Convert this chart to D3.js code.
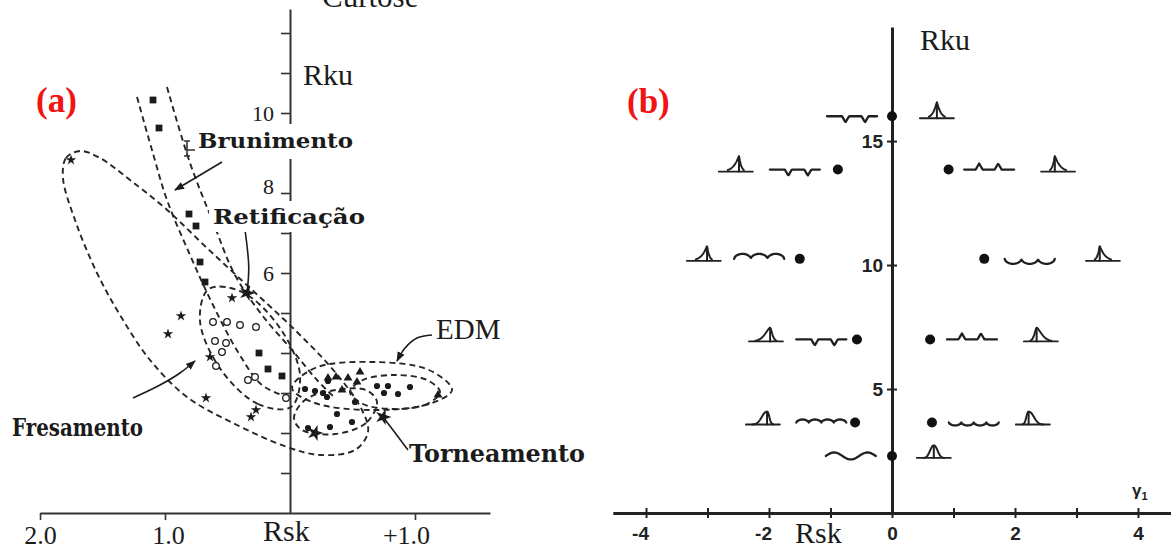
<!DOCTYPE html>
<html lang="pt">
<head>
<meta charset="utf-8">
<title>Rsk × Rku</title>
<script src="https://cdn.jsdelivr.net/npm/d3@7/dist/d3.min.js"></script>
<style>
  html, body { margin: 0; padding: 0; background: #fff; }
  svg { display: block; }
</style>
</head>
<body>
<svg id="fig" width="1171" height="550"></svg>
<script>
// ================= panel (a): Rsk × Rku by machining process =================
const aTicksY   = [1, 2, 3, 4, 5, 6, 7, 8, 9, 10, 11, 12];
const aLabelsY  = [6, 8, 10];
const aTicksX   = [-2, -1, 1];
const aTickText = ["2.0", "1.0", "+1.0"];

// Brunimento (honing) – filled squares
const brunRsk = [-1.096, -1.048, -0.808, -0.752, -0.72, -0.68, -0.248, -0.176, -0.064];
const brunRku = [10.325, 9.625, 7.475, 7.175, 6.275, 5.775, 4.0, 3.6, 3.425];
// Retificação (grinding) – open circles
const retRsk = [-0.616, -0.504, -0.4, -0.272, -0.6, -0.512, -0.544, -0.592, -0.336, -0.28, -0.032];
const retRku = [4.775, 4.775, 4.7, 4.65, 4.3, 4.25, 4.025, 3.675, 3.325, 3.4, 2.875];
// Fresamento (milling) – small stars
const fresRsk = [-1.752, -0.872, -0.976, -0.464, -0.64, -0.672, -0.272, -0.312];
const fresRku = [8.825, 4.925, 4.475, 5.375, 3.9, 2.875, 2.575, 2.4];
// Torneamento (turning) – filled dots
const tornRsk = [0.12, 0.2, 0.264, 0.304, 0.296, 0.696, 0.784, 0.96, 0.752, 0.864, 0.52, 0.376, 0.496, 0.32, 0.144];
const tornRku = [3.1, 3.05, 3.0, 3.3, 2.9, 3.175, 3.175, 3.15, 3.0, 2.975, 2.775, 2.475, 2.275, 2.15, 2.125];
// EDM – filled triangles
const edmRsk = [0.304, 0.368, 0.464, 0.56, 0.536, 0.416, 1.184];
const edmRku = [3.375, 3.4, 3.375, 3.525, 3.275, 3.075, 2.95];
// crossed markers at the tips of the pointers
const tipRsk = [-0.344, 0.2, 0.744];
const tipRku = [5.5, 2.0, 2.4];

// region outlines, [Rsk, Rku]
const fresOutline = [[-1.816, 8.375], [-1.792, 8.875], [-1.68, 9.05], [-1.52, 8.875], [-1.28, 8.325],
  [-1.0, 7.625], [-0.664, 6.625], [-0.32, 5.625], [0.04, 4.575], [0.36, 3.525], [0.576, 2.575],
  [0.624, 2.025], [0.52, 1.575], [0.24, 1.45], [-0.024, 1.65], [-0.456, 2.25], [-0.824, 2.9],
  [-1.12, 3.825], [-1.36, 4.95], [-1.544, 6.0], [-1.72, 7.325]];
const brunLeft  = [[-1.224, 10.4], [-1.104, 9.075], [-0.984, 7.825], [-0.8, 6.45], [-0.624, 5.25],
  [-0.416, 4.025], [-0.224, 3.2], [0.0, 2.875]];
const brunRight = [[-0.984, 10.65], [-0.8, 8.75], [-0.616, 7.275], [-0.44, 5.95], [-0.224, 4.95],
  [0.016, 4.075], [0.216, 3.325], [0.36, 2.875]];
const retOutline  = [[0.008, 2.65], [-0.256, 2.725], [-0.556, 3.6], [-0.72, 4.8], [-0.65, 5.6],
  [-0.386, 5.53], [-0.084, 4.64], [0.08, 3.45]];
const edmOutline  = [[1.296, 3.075], [1.112, 2.725], [0.656, 2.575], [0.2, 2.75], [0.016, 3.125],
  [0.2, 3.625], [0.656, 3.775], [1.112, 3.575]];
const edmCore     = [[1.2, 3.025], [1.096, 2.725], [0.84, 2.6], [0.584, 2.725], [0.48, 3.025],
  [0.584, 3.325], [0.84, 3.45], [1.096, 3.325]];
const tornOutline = [[0.696, 2.775], [0.608, 2.25], [0.36, 1.975], [0.096, 2.075], [0.032, 2.375],
  [0.12, 2.825], [0.368, 3.075], [0.608, 3.075]];

// pointers from the labels
const ptrBrun = [[-0.544, 8.775], [-0.92, 8.075]];
const ptrRet  = [[-0.36, 7.075], [-0.33, 6.15], [-0.344, 5.5]];
const ptrFres = [[-1.256, 2.875], [-1.04, 3.2], [-0.88, 3.5], [-0.76, 3.8]];
const ptrEdm  = [[1.136, 4.45], [1.016, 4.375], [0.92, 4.125], [0.856, 3.8]];
const ptrTorn = [[0.944, 1.575], [0.824, 2.075], [0.744, 2.4]];

// ================= panel (b): typical profiles =================
const bTicksX   = [-4, -3, -2, -1, 0, 1, 2, 3, 4];
const bLabelsX  = [-4, -2, 0, 2, 4];
const bTicksY   = [5, 10, 15];
const bRsk      = [0, -0.88, 0.92, -1.5, 1.5, -0.57, 0.62, -0.6, 0.65, 0];
const bRku      = [16, 13.85, 13.85, 10.25, 10.25, 7.0, 7.0, 3.65, 3.65, 2.3];
const profRsk   = [-0.65, -1.58, 1.58, -2.16, 2.24, -1.15, 1.3, -1.15, 1.33, -0.67];
const profKind  = ["dips", "dips", "spikes", "arches", "cups", "dips", "spikes", "ripple", "trough", "sine"];
const distRsk   = [0.73, -2.54, 2.7, -3.06, 3.43, -2.05, 2.42, -2.1, 2.29, 0.68];

// ---------------------------------------------------------------------------
const svg = d3.select("#fig");
const ink = "#1b1b1b";
const serif = "'Liberation Serif','Times New Roman',serif";
const boldSerif = "'DejaVu Serif',serif";
const sans = "'Liberation Sans',Arial,sans-serif";
const red = "#f01414";

svg.append("rect").attr("width", 1171).attr("height", 550).attr("fill", "#fff");

const defs = svg.append("defs");
defs.append("marker").attr("id", "head")
  .attr("viewBox", "0 0 10 10").attr("refX", 9).attr("refY", 5)
  .attr("markerWidth", 10).attr("markerHeight", 10)
  .attr("markerUnits", "userSpaceOnUse").attr("orient", "auto")
  .append("path").attr("d", "M0,1.2L10,5L0,8.8Z").attr("fill", ink);

// ----------------------------- panel (a) -----------------------------------
const xa = d3.scaleLinear().domain([-2, 1.6]).range([40, 490]);
const ya = d3.scaleLinear().domain([0, 12.6]).range([513, 9]);
const ga = svg.append("g");

const axAy = ga.append("g").attr("transform", `translate(${xa(0)},0)`)
  .call(d3.axisLeft(ya).tickValues(aTicksY).tickSize(9).tickSizeOuter(0).tickPadding(7)
    .tickFormat(d => aLabelsY.includes(d) ? String(d) : ""));
const axAx = ga.append("g").attr("transform", `translate(0,${ya(0)})`)
  .call(d3.axisBottom(xa).tickValues(aTicksX).tickSize(7).tickSizeOuter(0)
    .tickFormat((d, i) => aTickText[i]));
[axAy, axAx].forEach(g => {
  g.select(".domain").attr("stroke", "#333").attr("stroke-width", 2);
  g.selectAll(".tick line").attr("stroke", "#333").attr("stroke-width", 1.6);
  g.selectAll("text").attr("fill", ink).attr("font-family", serif);
});
axAy.selectAll("text").attr("font-size", 22).attr("dy", d => d === 8 ? "0" : "0.32em");
axAx.selectAll("text").attr("font-size", 26).attr("y", 31).attr("dy", 0)
  .attr("dx", (d, i) => [0, 3, -9][i]);

const openA = d3.line().x(d => xa(d[0])).y(d => ya(d[1])).curve(d3.curveCatmullRom.alpha(0.5));
const closedA = d3.line().x(d => xa(d[0])).y(d => ya(d[1])).curve(d3.curveCatmullRomClosed.alpha(0.5));

const regions = ga.append("g").attr("fill", "none").attr("stroke", "#262626")
  .attr("stroke-width", 1.9).attr("stroke-dasharray", "6 4");
[fresOutline, retOutline, edmOutline, edmCore, tornOutline].forEach(o =>
  regions.append("path").attr("d", closedA(o)));
[brunLeft, brunRight].forEach(o => regions.append("path").attr("d", openA(o)));

// pointers
const ptrs = ga.append("g").attr("fill", "none").attr("stroke", ink).attr("stroke-width", 1.6);
[ptrBrun, ptrFres, ptrEdm].forEach(p =>
  ptrs.append("path").attr("d", openA(p)).attr("marker-end", "url(#head)"));
[ptrRet, ptrTorn].forEach(p => ptrs.append("path").attr("d", openA(p)));

// markers
const marks = ga.append("g");
const sq = d3.symbol().type(d3.symbolSquare).size(46);
const tri = d3.symbol().type(d3.symbolTriangle).size(34);
const star = d3.symbol().type(d3.symbolStar).size(34);
const bigStar = d3.symbol().type(d3.symbolStar).size(80);

marks.selectAll(".sq").data(d3.zip(brunRsk, brunRku)).join("path")
  .attr("d", sq).attr("fill", ink)
  .attr("transform", d => `translate(${xa(d[0])},${ya(d[1])})`);
marks.selectAll(".oc").data(d3.zip(retRsk, retRku)).join("circle")
  .attr("cx", d => xa(d[0])).attr("cy", d => ya(d[1])).attr("r", 3.3)
  .attr("fill", "#fff").attr("stroke", ink).attr("stroke-width", 1.3);
marks.selectAll(".st").data(d3.zip(fresRsk, fresRku)).join("path")
  .attr("d", star).attr("fill", ink)
  .attr("transform", d => `translate(${xa(d[0])},${ya(d[1])})`);
marks.selectAll(".dt").data(d3.zip(tornRsk, tornRku)).join("circle")
  .attr("cx", d => xa(d[0])).attr("cy", d => ya(d[1])).attr("r", 3.1).attr("fill", ink);
marks.selectAll(".tr").data(d3.zip(edmRsk, edmRku)).join("path")
  .attr("d", tri).attr("fill", ink)
  .attr("transform", d => `translate(${xa(d[0])},${ya(d[1])})`);
marks.selectAll(".tp").data(d3.zip(tipRsk, tipRku)).join("path")
  .attr("d", bigStar).attr("fill", ink)
  .attr("transform", d => `translate(${xa(d[0])},${ya(d[1])}) rotate(18)`);

// small bracket mark next to the honing label
ga.append("path")
  .attr("d", "M184,141H190M187,141V156M184,156H190M187,150H195")
  .attr("fill", "none").attr("stroke", "#333").attr("stroke-width", 1.6);

// labels on white plates
function plateLabel(g, txt, x, y, size, len, box) {
  if (box) g.append("rect").attr("x", box[0]).attr("y", box[1]).attr("width", box[2]).attr("height", box[3]).attr("fill", "#fff");
  g.append("text").attr("x", x).attr("y", y).text(txt)
    .attr("font-family", boldSerif).attr("font-weight", "bold").attr("font-size", size)
    .attr("fill", ink).attr("textLength", len).attr("lengthAdjust", "spacingAndGlyphs");
}
plateLabel(ga, "Brunimento", 198, 148, 21, 155, [195, 124, 164, 35]);
plateLabel(ga, "Retificação", 213, 224, 21, 152, [209, 201, 161, 31]);
plateLabel(ga, "Fresamento", 12, 436, 24, 131, null);
plateLabel(ga, "Torneamento", 409, 462, 24, 176, null);

ga.append("text").attr("x", 436).attr("y", 339).text("EDM")
  .attr("font-family", serif).attr("font-size", 29).attr("fill", ink);
ga.append("text").attr("x", 303).attr("y", 85).text("Rku")
  .attr("font-family", serif).attr("font-size", 30).attr("fill", ink);
ga.append("text").attr("x", 263).attr("y", 541).text("Rsk")
  .attr("font-family", serif).attr("font-size", 30).attr("fill", ink);
ga.append("text").attr("x", 322).attr("y", 7).text("Curtose")
  .attr("font-family", serif).attr("font-size", 31).attr("fill", ink);
ga.append("text").attr("x", 36).attr("y", 112).text("(a)")
  .attr("font-family", serif).attr("font-weight", "bold").attr("font-size", 35).attr("fill", red);

// ----------------------------- panel (b) -----------------------------------
const xb = d3.scaleLinear().domain([-4.54, 4.54]).range([612.8, 1171.2]);
const yb = d3.scaleLinear().domain([0, 19.6]).range([513, 27]);
const gb = svg.append("g");

const axBx = gb.append("g").attr("transform", `translate(0,${yb(0)})`)
  .call(d3.axisBottom(xb).tickValues(bTicksX).tickSize(5).tickSizeOuter(0).tickPadding(9)
    .tickFormat(d => bLabelsX.includes(d) ? String(d) : ""));
axBx.selectAll(".tick line").attr("y1", -5);
axBx.selectAll(".tick text").attr("dx", d => d < 0 ? -6 : 0);
const axBy = gb.append("g").attr("transform", `translate(${xb(0)},0)`)
  .call(d3.axisLeft(yb).tickValues(bTicksY).tickSize(5).tickSizeOuter(0).tickPadding(4)
    .tickFormat(d => String(d)));
axBy.selectAll(".tick line").attr("x1", 5);
[axBx, axBy].forEach(g => {
  g.select(".domain").attr("stroke", "#222").attr("stroke-width", 3);
  g.selectAll(".tick line").attr("stroke", "#222").attr("stroke-width", 2);
  g.selectAll("text").attr("fill", "#222").attr("font-family", sans)
    .attr("font-weight", "bold").attr("font-size", 19);
});

// profile sketch: a short trace whose features follow the kind of surface
function profilePts(kind, w) {
  const n = 80, pts = [];
  const vee = (t, cs, depth) => {
    let y = 0;
    cs.forEach(c => { const d = Math.abs(t - c); if (d < 0.07) y = Math.max(y, depth * (1 - d / 0.07)); });
    return y;
  };
  for (let i = 0; i <= n; i++) {
    const t = i / n, x = (t - 0.5) * w;
    let y = 0;
    if (kind === "dips") y = vee(t, [0.37, 0.76], 6);
    else if (kind === "spikes") y = -vee(t, [0.3, 0.68], 6);
    else if (kind === "arches") y = -5 * Math.pow(Math.abs(Math.sin(3 * Math.PI * t)), 0.5);
    else if (kind === "cups") y = 5 * Math.pow(Math.abs(Math.sin(3 * Math.PI * t)), 0.5);
    else if (kind === "ripple") y = -3 * Math.pow(Math.abs(Math.sin(4 * Math.PI * t)), 0.6);
    else if (kind === "trough") y = 3 * Math.pow(Math.abs(Math.sin(4 * Math.PI * t)), 0.6);
    else if (kind === "sine") y = -3.5 * Math.sin(3 * Math.PI * t);
    pts.push([x, y]);
  }
  return pts;
}

// amplitude-distribution sketch: skew sets the lean, kurtosis the sharpness
function distShape(skew, kurt) {
  const half = kurt > 8 ? 8 : 10.5;
  const h = 12 + kurt * 0.25;
  const p = -Math.sign(skew) * 0.4 * half;
  const k = kurt > 8 ? 1.1 : (kurt > 5 ? 1.5 : 2.2);
  const pts = [];
  for (let i = 0; i <= 40; i++) {
    const x = -half + 2 * half * i / 40;
    const s = (x < p ? p + half : half - p) / 2.1;
    pts.push([x, -h * Math.exp(-Math.pow(Math.abs(x - p) / s, k))]);
  }
  return { pts, p, h };
}

const rel = d3.line().curve(d3.curveLinear);
const glyphs = gb.append("g").attr("fill", "none").attr("stroke", "#202020")
  .attr("stroke-linejoin", "round").attr("stroke-linecap", "round");

bRku.forEach((ku, i) => {
  glyphs.append("path")
    .attr("transform", `translate(${xb(profRsk[i])},${yb(ku)})`)
    .attr("d", rel(profilePts(profKind[i], 50))).attr("stroke-width", 2.3);
  const dsh = distShape(bRsk[i], ku);
  const g = glyphs.append("g").attr("transform", `translate(${xb(distRsk[i])},${yb(ku) + 2})`);
  g.append("path").attr("d", "M-17,0H17").attr("stroke-width", 1.8);
  g.append("path").attr("d", rel(dsh.pts)).attr("stroke-width", 2);
  g.append("path").attr("d", `M${dsh.p},0V${-dsh.h * 0.95}`).attr("stroke-width", 2);
});

gb.selectAll(".pt").data(d3.zip(bRsk, bRku)).join("circle")
  .attr("cx", d => xb(d[0])).attr("cy", d => yb(d[1])).attr("r", 5).attr("fill", "#111");

gb.append("text").attr("x", 920).attr("y", 50).text("Rku")
  .attr("font-family", serif).attr("font-size", 30).attr("fill", ink);
gb.append("text").attr("x", 795).attr("y", 543).text("Rsk")
  .attr("font-family", serif).attr("font-size", 30).attr("fill", ink);
const gam = gb.append("text").attr("x", 1132).attr("y", 496)
  .attr("font-family", sans).attr("font-weight", "bold").attr("font-size", 17).attr("fill", "#222");
gam.append("tspan").text("γ");
gam.append("tspan").text("1").attr("font-size", 11).attr("dy", 4);
gb.append("text").attr("x", 627).attr("y", 113).text("(b)")
  .attr("font-family", serif).attr("font-weight", "bold").attr("font-size", 35).attr("fill", red);
</script>
</body>
</html>
